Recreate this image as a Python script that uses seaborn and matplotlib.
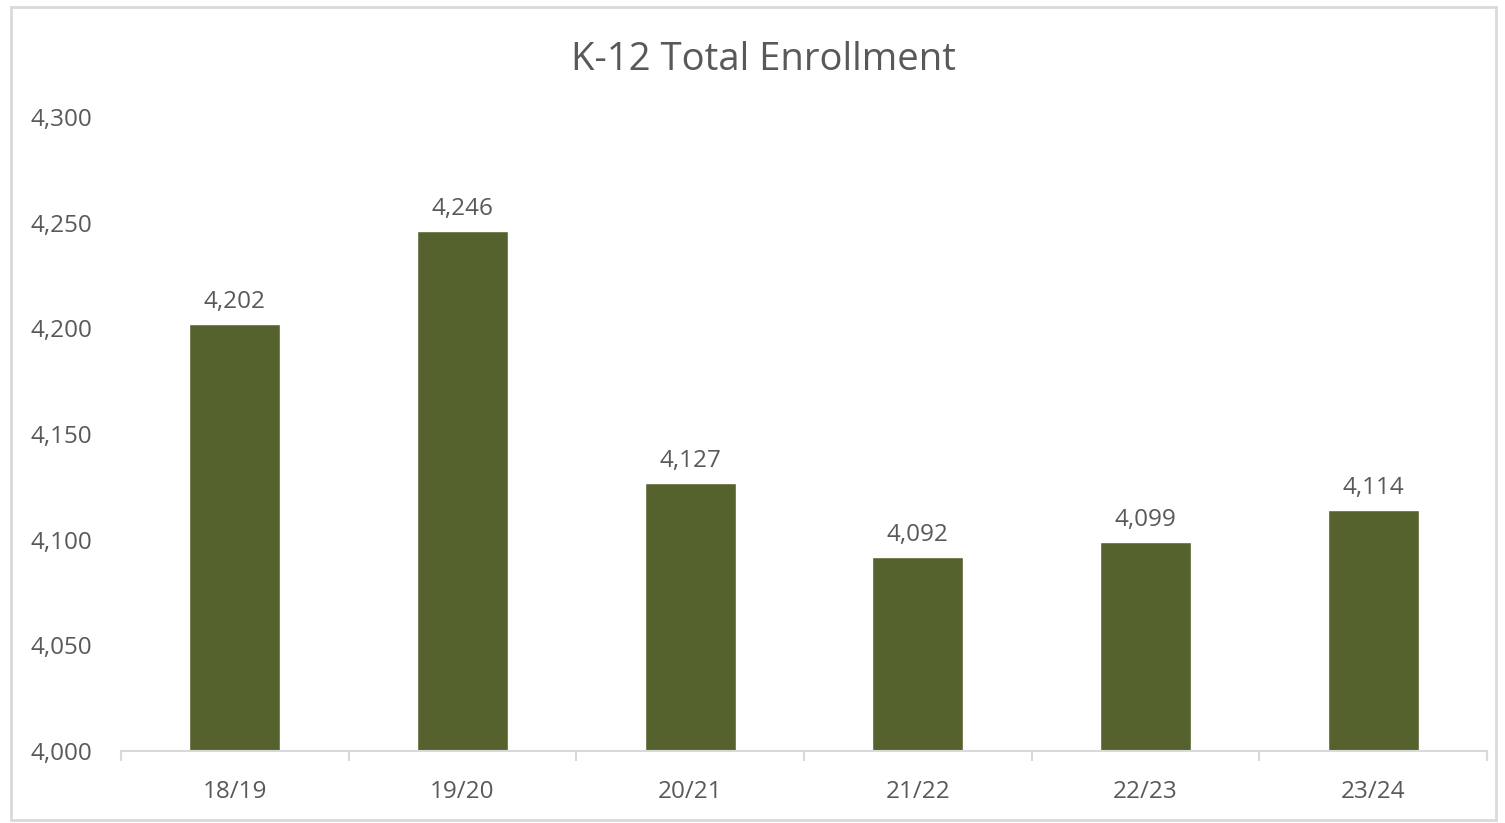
import matplotlib
matplotlib.use("Agg")
import matplotlib.pyplot as plt
import seaborn as sns
import pandas as pd
from matplotlib.patches import Rectangle
from matplotlib.ticker import FuncFormatter, FixedLocator

# Enrollment data
years = ["18/19", "19/20", "20/21", "21/22", "22/23", "23/24"]
enrollment = [4202, 4246, 4127, 4092, 4099, 4114]

df = pd.DataFrame({"Year": years, "Enrollment": enrollment})

sns.set_style("white")
plt.rcParams["font.family"] = ["Open Sans", "DejaVu Sans"]
text_color = "#595959"
bar_color = "#56622D"
line_color = "#D9D9D9"

fig = plt.figure(figsize=(15.05, 8.23), dpi=100)
ax = fig.add_axes([0.0804, 0.0875, 0.9076, 0.7703])

sns.barplot(data=df, x="Year", y="Enrollment", color=bar_color, width=0.4,
            saturation=1, ax=ax)

ax.set_ylim(4000, 4300)
ax.set_xlim(-0.5, len(years) - 0.5)
ax.yaxis.set_major_locator(FixedLocator(range(4000, 4301, 50)))
ax.yaxis.set_major_formatter(FuncFormatter(lambda v, p: f"{int(v):,}"))

# bar value labels
for i, v in enumerate(enrollment):
    ax.annotate(f"{v:,}", (i, v), xytext=(0, 7), textcoords="offset points",
                ha="center", va="bottom", fontsize=17.5, color=text_color)

# chart title centred on the whole figure
fig.text(0.507, 0.927, "K-12 Total Enrollment", fontsize=27.5, color=text_color,
         ha="center", va="center")
ax.set_xlabel("")
ax.set_ylabel("")

for s in ["top", "right", "left"]:
    ax.spines[s].set_visible(False)
ax.spines["bottom"].set_color(line_color)
ax.spines["bottom"].set_linewidth(1.5)

# ticks between categories on x axis
ax.set_xticks(range(len(years)))
ax.set_xticklabels(years)
ax.set_xticks([i - 0.5 for i in range(len(years) + 1)], minor=True)
ax.tick_params(axis="x", which="major", bottom=False, length=0, labelsize=17.5,
               labelcolor=text_color, pad=21)
ax.tick_params(axis="x", which="minor", bottom=True, length=7, width=1.5,
               color=line_color, direction="out")
ax.tick_params(axis="y", left=False, length=0, labelsize=17.5, labelcolor=text_color, pad=65)
for lbl in ax.get_yticklabels():
    lbl.set_horizontalalignment("left")

# outer chart frame
fig.patches.append(Rectangle((0.0073, 0.004), 0.987, 0.988, transform=fig.transFigure,
                             fill=False, edgecolor=line_color, linewidth=2))

fig.savefig("out.png", dpi=100, facecolor="white")
